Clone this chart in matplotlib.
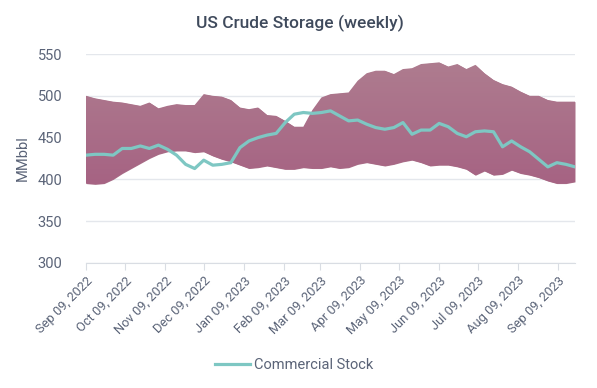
import numpy as np
import pandas as pd
import matplotlib
matplotlib.use('Agg')
import matplotlib.pyplot as plt
import matplotlib.dates as mdates
from matplotlib.colors import LinearSegmentedColormap

plt.rcParams['font.family'] = ['Roboto', 'DejaVu Sans']

# weekly data, Fridays from Sep 09, 2022
dates = pd.date_range('2022-09-09', periods=55, freq='7D')
band_high = [500, 497, 495, 493, 492, 490, 488, 492, 485, 488, 490, 489, 489, 502, 500,
             499, 495, 486, 484, 486, 477, 476, 470, 463, 463, 483, 498, 502, 503, 504,
             518, 527, 530, 530, 526, 532, 533, 538, 539, 540, 535, 538, 532, 537, 527,
             519, 514, 511, 505, 500, 500, 495, 493, 493, 493]
band_low = [395, 394, 395, 400, 407, 413, 419, 425, 430, 433, 434, 434, 432, 433, 428,
            424, 421, 417, 413, 414, 416, 414, 412, 412, 414, 413, 413, 415, 413, 414,
            418, 420, 418, 416, 418, 421, 423, 420, 416, 417, 417, 415, 412, 405, 410,
            405, 406, 411, 407, 405, 402, 398, 395, 395, 397]
commercial = [429, 430, 430, 429, 437, 437, 440, 437, 441, 436, 429, 418, 413, 423, 417,
              418, 420, 438, 446, 450, 453, 455, 468, 478, 480, 479, 480, 482, 476, 470,
              471, 466, 462, 460, 462, 468, 454, 459, 459, 467, 463, 455, 451, 457, 458,
              457, 439, 446, 439, 433, 424, 415, 420, 418, 415]
tick_dates = pd.date_range('2022-09-01', '2023-09-01', freq='MS') + pd.Timedelta(days=8)

text_col = '#5b6478'
grid_col = '#e4e7ec'

fig = plt.figure(figsize=(5.97, 3.88), dpi=100)
ax = fig.add_axes([86 / 597, 1 - 263 / 388, (575 - 86) / 597, (263 - 54) / 388])

x = mdates.date2num(dates)
poly = ax.fill_between(x, band_low, band_high, color='#aa7089', lw=0, zorder=2)

# vertical gradient inside the band
cmap = LinearSegmentedColormap.from_list('band', ['#ae7c8f', '#a66383'])
grad = np.linspace(0, 1, 256).reshape(-1, 1)
im = ax.imshow(grad, cmap=cmap, aspect='auto', origin='upper',
               extent=[x[0], x[-1], 395, 540], zorder=3)
im.set_clip_path(poly.get_paths()[0], transform=ax.transData)

ax.plot(x, commercial, color='#7ec7c3', lw=2.3, zorder=4, label='Commercial Stock',
        solid_joinstyle='round')

ax.set_xlim(x[0], x[-1])
ax.set_ylim(300, 550)
ax.set_yticks([300, 350, 400, 450, 500, 550])
ax.yaxis.grid(True, color=grid_col, lw=1)
ax.set_axisbelow(True)
for s in ['top', 'right', 'left']:
    ax.spines[s].set_visible(False)
ax.spines['bottom'].set_color('#d9dde3')
ax.spines['bottom'].set_zorder(5)

ax.set_xticks(mdates.date2num(tick_dates))
ax.set_xticklabels([d.strftime('%b %d, %Y') for d in tick_dates], rotation=45,
                   ha='right', rotation_mode='anchor')
ax.tick_params(axis='x', length=5, color='#d9dde3', labelsize=9.3, labelcolor=text_col, pad=3)
ax.tick_params(axis='y', length=0, labelsize=10.5, labelcolor=text_col, pad=17)
ax.set_ylabel('MMbbl', color=text_col, fontsize=10.5, labelpad=6)

fig.text(300 / 597, 1 - 23 / 388, 'US Crude Storage (weekly)', ha='center', va='center',
         fontsize=12.5, color='#3f4a5c', fontweight='medium')

fig.legend(loc='center', bbox_to_anchor=(294 / 597, 1 - 365 / 388), frameon=False,
           fontsize=10.5, labelcolor=text_col, handlelength=2.4, handletextpad=0.3)

fig.savefig('out.png', dpi=100)
